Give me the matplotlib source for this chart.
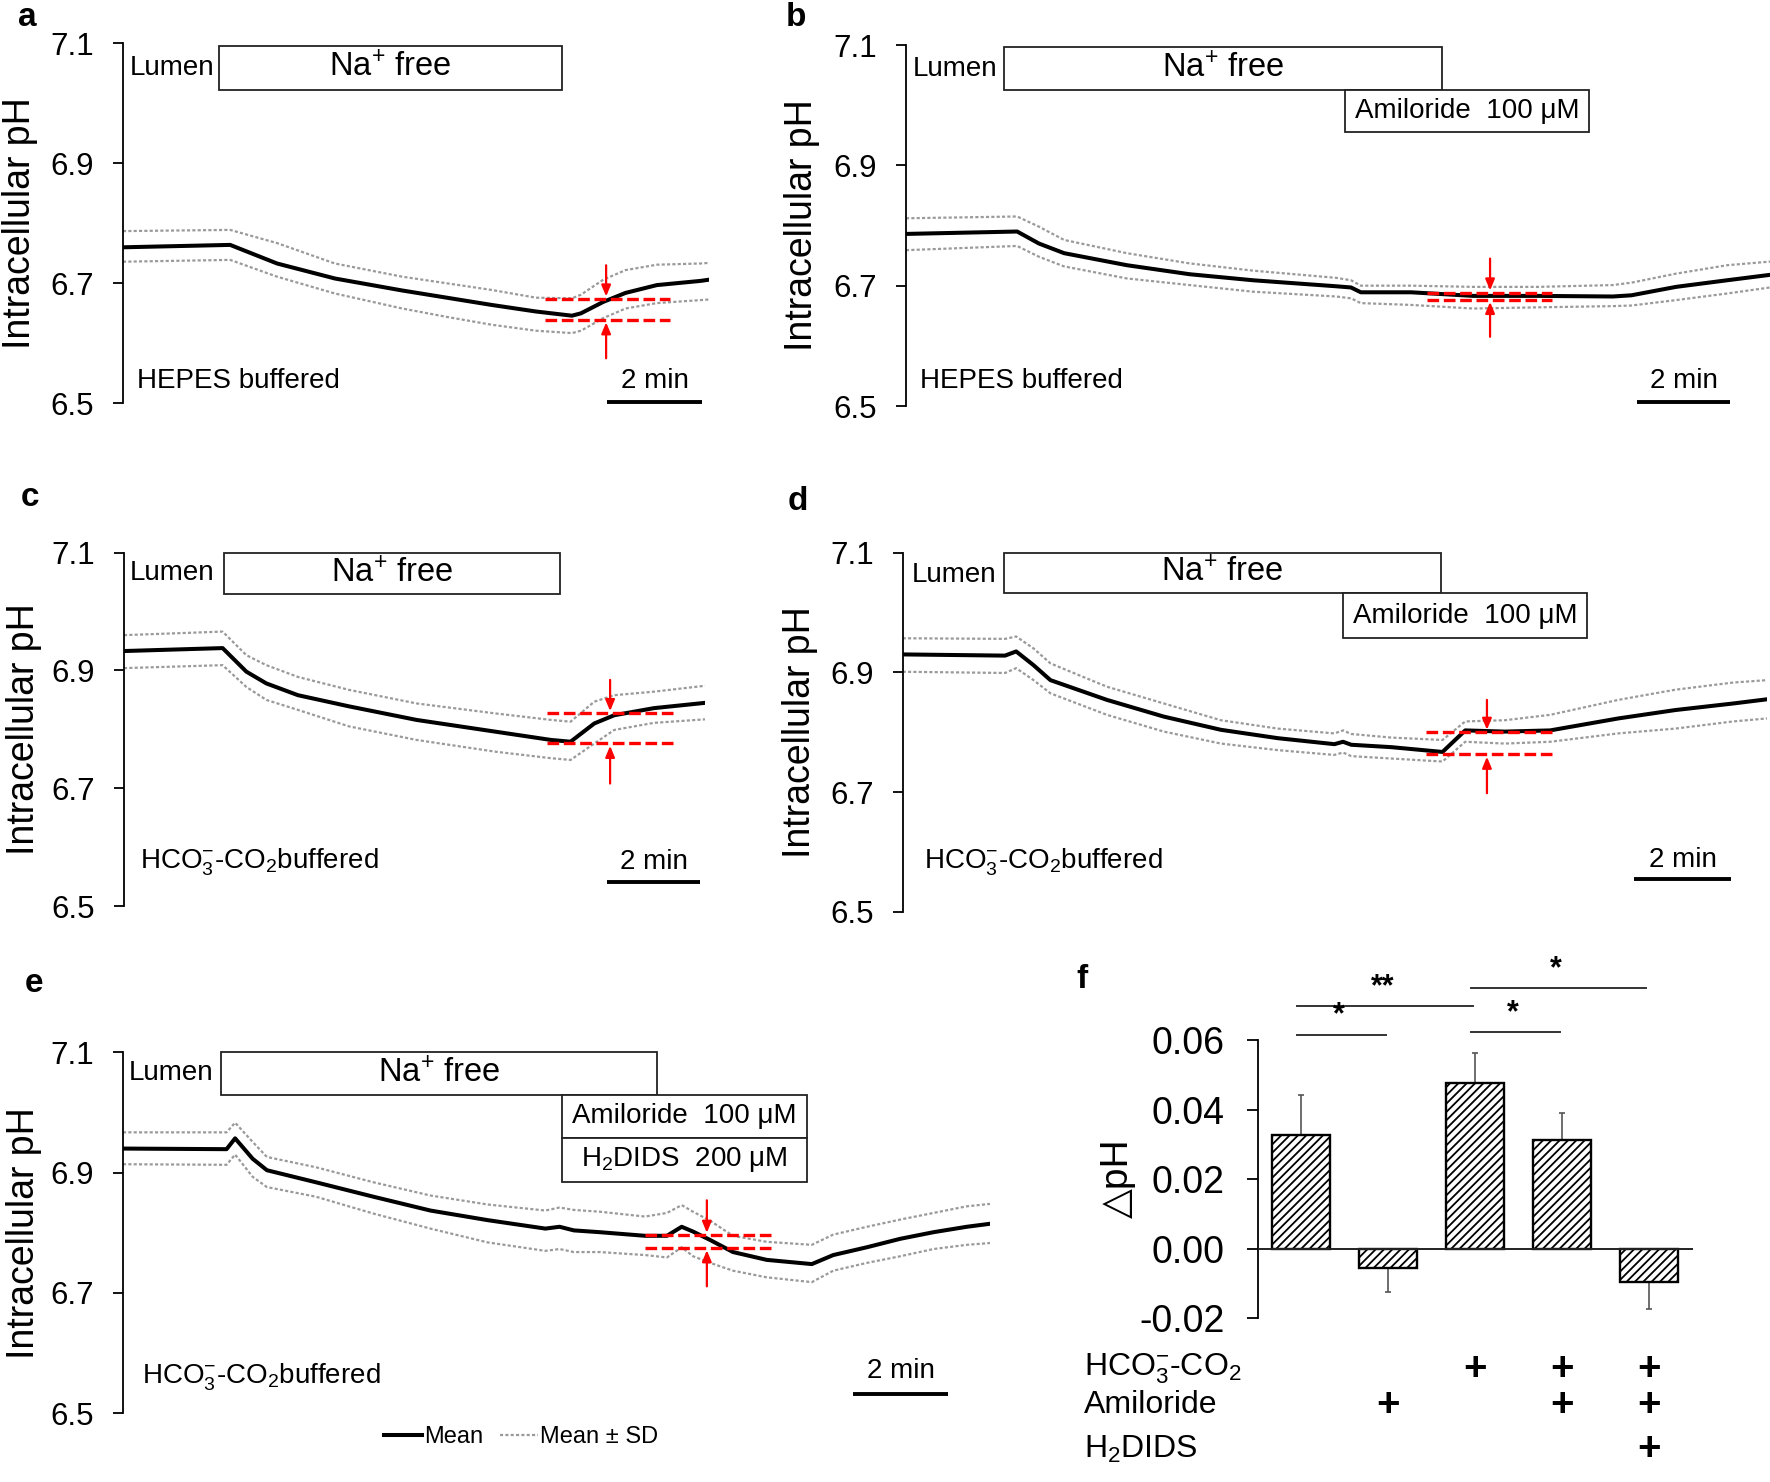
import matplotlib
matplotlib.use("Agg")
import matplotlib.pyplot as plt
from matplotlib.patches import Rectangle
from matplotlib.lines import Line2D

plt.rcParams['font.family'] = ['Liberation Sans', 'DejaVu Sans']
plt.rcParams['mathtext.fontset'] = 'custom'
plt.rcParams['mathtext.rm'] = 'Liberation Sans'
plt.rcParams['mathtext.it'] = 'Liberation Sans:italic'
plt.rcParams['mathtext.bf'] = 'Liberation Sans:bold'
plt.rcParams['hatch.linewidth'] = 1.3

# ---------------- data (time in min, pH) ----------------
a_t = [0, 2.26, 3.25, 4.47, 5.89, 6.83, 7.77, 8.71, 9.47, 9.66, 10.13, 10.6, 11.26, 12.18, 12.36]
a_mean = [6.760, 6.764, 6.733, 6.708, 6.688, 6.676, 6.664, 6.653, 6.646, 6.650, 6.669, 6.684, 6.697, 6.704, 6.706]
a_upper = [6.787, 6.789, 6.767, 6.733, 6.711, 6.700, 6.689, 6.676, 6.675, 6.681, 6.706, 6.722, 6.731, 6.733, 6.734]
a_lower = [6.736, 6.739, 6.711, 6.683, 6.658, 6.644, 6.631, 6.621, 6.617, 6.621, 6.642, 6.658, 6.667, 6.672, 6.673]
a_red = [6.674, 6.639]

b_t = [0, 2.39, 2.86, 3.4, 4.75, 6.1, 7.46, 9.25, 9.57, 9.78, 10.86, 12.2, 13.6, 15.2, 15.6, 16.56, 17.66, 18.58]
b_mean = [6.786, 6.790, 6.770, 6.754, 6.734, 6.719, 6.709, 6.699, 6.697, 6.689, 6.689, 6.683, 6.683, 6.682, 6.684, 6.698, 6.709, 6.718]
b_upper = [6.812, 6.815, 6.798, 6.776, 6.754, 6.737, 6.725, 6.713, 6.709, 6.700, 6.700, 6.698, 6.698, 6.701, 6.705, 6.720, 6.734, 6.740]
b_lower = [6.759, 6.766, 6.748, 6.732, 6.712, 6.701, 6.690, 6.682, 6.679, 6.671, 6.668, 6.662, 6.664, 6.666, 6.667, 6.676, 6.687, 6.697]
b_red = [6.688, 6.677]

c_t = [0, 2.12, 2.63, 3.06, 3.74, 4.84, 6.29, 7.99, 9.18, 9.6, 10.11, 10.54, 11.39, 12.49]
c_mean = [6.933, 6.938, 6.898, 6.878, 6.858, 6.839, 6.816, 6.796, 6.782, 6.779, 6.810, 6.824, 6.836, 6.845]
c_upper = [6.960, 6.966, 6.926, 6.909, 6.889, 6.867, 6.844, 6.827, 6.816, 6.813, 6.847, 6.858, 6.864, 6.874]
c_lower = [6.904, 6.909, 6.872, 6.850, 6.833, 6.805, 6.782, 6.762, 6.751, 6.748, 6.776, 6.799, 6.811, 6.817]
c_red = [6.827, 6.776]

d_t = [0, 2.12, 2.35, 2.71, 3.06, 4.23, 5.41, 6.59, 7.77, 8.94, 9.12, 9.29, 10.12, 11.18, 11.65, 12.47, 13.41, 14.82, 16.0, 17.2, 17.9]
d_mean = [6.930, 6.928, 6.935, 6.912, 6.887, 6.854, 6.826, 6.804, 6.790, 6.780, 6.784, 6.779, 6.775, 6.767, 6.803, 6.801, 6.803, 6.823, 6.837, 6.848, 6.855]
d_upper = [6.957, 6.956, 6.960, 6.940, 6.915, 6.876, 6.848, 6.820, 6.806, 6.798, 6.803, 6.797, 6.791, 6.787, 6.818, 6.820, 6.829, 6.854, 6.871, 6.883, 6.887]
d_lower = [6.901, 6.899, 6.907, 6.887, 6.865, 6.829, 6.801, 6.781, 6.770, 6.762, 6.766, 6.760, 6.756, 6.751, 6.784, 6.781, 6.784, 6.798, 6.806, 6.818, 6.823]
d_red = [6.800, 6.763]

e_t = [0, 2.18, 2.36, 2.73, 3.03, 4.06, 5.27, 6.47, 7.68, 8.89, 9.19, 9.49, 10.04, 10.99, 11.45, 11.76, 12.0, 12.36, 12.84, 13.55, 14.5, 14.95, 15.66, 16.36, 17.06, 17.76, 18.25]
e_mean = [6.940, 6.939, 6.957, 6.923, 6.904, 6.884, 6.860, 6.837, 6.821, 6.807, 6.810, 6.804, 6.801, 6.795, 6.795, 6.810, 6.802, 6.788, 6.768, 6.755, 6.748, 6.763, 6.776, 6.790, 6.801, 6.810, 6.815]
e_upper = [6.967, 6.967, 6.983, 6.951, 6.926, 6.909, 6.884, 6.862, 6.847, 6.837, 6.842, 6.838, 6.835, 6.827, 6.833, 6.846, 6.835, 6.820, 6.795, 6.785, 6.780, 6.797, 6.810, 6.822, 6.833, 6.844, 6.848]
e_lower = [6.914, 6.913, 6.930, 6.893, 6.876, 6.860, 6.832, 6.807, 6.784, 6.770, 6.773, 6.768, 6.768, 6.763, 6.759, 6.776, 6.761, 6.750, 6.737, 6.726, 6.718, 6.737, 6.750, 6.761, 6.773, 6.780, 6.783]
e_red = [6.796, 6.775]

yticks_pH = [6.5, 6.7, 6.9, 7.1]
ytick_labels_pH = ['6.5', '6.7', '6.9', '7.1']

# panel f
f_values = [0.0328, -0.0056, 0.0476, 0.0313, -0.0096]
f_sd = [0.0115, 0.0067, 0.0086, 0.0077, 0.0077]
f_yticks = [-0.02, 0.00, 0.02, 0.04, 0.06]
f_ytick_labels = ['-0.02', '0.00', '0.02', '0.04', '0.06']
f_sig = [(0, 1, 0.0615, '*'), (0, 2, 0.0697, '**'), (2, 3, 0.0622, '*'), (2, 4, 0.0749, '*')]
f_rows = [r'HCO$_3^{-}$-CO$_2$', 'Amiloride', r'H$_2$DIDS']
f_plus = [[2, 3, 4], [1, 3, 4], [4]]

# ---------------- figure ----------------
W, H = 1770, 1482
fig = plt.figure(figsize=(W / 100, H / 100), dpi=100)


def rect(l, t, r, b):
    return [l / W, 1 - b / H, (r - l) / W, (b - t) / H]


SDC = '#9a9a9a'


def trace_axes(r, xmax, t, mean, up, lo):
    ax = fig.add_axes(rect(*r))
    ax.set_xlim(0, xmax)
    ax.set_ylim(6.5, 7.1)
    for s in ['top', 'right', 'bottom']:
        ax.spines[s].set_visible(False)
    ax.spines['left'].set_linewidth(1.3)
    ax.set_xticks([])
    ax.set_yticks(yticks_pH)
    ax.set_yticklabels(ytick_labels_pH)
    ax.tick_params(axis='y', labelsize=22.5, length=7, width=1.3, pad=14)
    ax.patch.set_alpha(0)
    ax.plot(t, up, color=SDC, lw=1.6, dashes=(1.4, 1.0))
    ax.plot(t, lo, color=SDC, lw=1.6, dashes=(1.4, 1.0))
    ax.plot(t, mean, color='black', lw=2.9)
    return ax


def box(ax, x0, x1, y0, y1, label, fs=21):
    ax.add_patch(Rectangle((x0, y0), x1 - x0, y1 - y0, facecolor='white',
                           edgecolor='#222222', lw=1.3, clip_on=False, zorder=4))
    ax.text((x0 + x1) / 2, (y0 + y1) / 2, label, ha='center', va='center',
            fontsize=fs, zorder=5, clip_on=False)


def red_marks(ax, vals, x0, x1, xa, top, bot):
    hi, lo = vals
    for v in vals:
        ax.plot([x0, x1], [v, v], color='red', lw=2.4, dashes=(3.5, 1.4), zorder=6)
    ap = dict(arrowstyle='-|>,head_length=0.6,head_width=0.25', color='red', lw=1.6,
              shrinkA=0, shrinkB=0, mutation_scale=11)
    ax.annotate('', xy=(xa, hi + 0.004), xytext=(xa, top), arrowprops=ap, zorder=6)
    ax.annotate('', xy=(xa, lo - 0.004), xytext=(xa, bot), arrowprops=ap, zorder=6)


def scalebar(ax, x0, y, ty):
    ax.plot([x0, x0 + 2], [y, y], color='black', lw=2.8, clip_on=False, solid_capstyle='butt')
    ax.text(x0 + 1, ty, '2 min', ha='center', va='center', fontsize=20)


def ylab(x, r):
    yc = (r[1] + r[3]) / 2
    fig.text(x / W, 1 - yc / H, 'Intracellular pH', rotation=90, ha='center', va='center',
             fontsize=27)


NA = r'Na$^{+}$ free'
AMI = 'Amiloride  100 μM'
HCO = r'HCO$_3^{-}$-CO$_2$buffered'

# ---- a ----
ra = (123, 43.3, 709, 403.3)
ax = trace_axes(ra, 12.36, a_t, a_mean, a_upper, a_lower)
box(ax, 2.02, 9.26, 7.022, 7.096, NA, 23.5)
ax.text(0.15, 7.058, 'Lumen', ha='left', va='center', fontsize=20)
ax.text(0.3, 6.537, 'HEPES buffered', ha='left', va='center', fontsize=20)
scalebar(ax, 10.21, 6.502, 6.537)
red_marks(ax, a_red, 8.9, 11.54, 10.19, 6.730, 6.575)
ylab(20, ra)

# ---- b ----
rb = (906, 45, 1770, 406)
ax = trace_axes(rb, 18.58, b_t, b_mean, b_upper, b_lower)
box(ax, 2.11, 11.52, 7.026, 7.097, NA, 23.5)
box(ax, 9.44, 14.69, 6.955, 7.026, AMI, 20)
ax.text(0.14, 7.06, 'Lumen', ha='left', va='center', fontsize=20)
ax.text(0.3, 6.541, 'HEPES buffered', ha='left', va='center', fontsize=20)
scalebar(ax, 15.72, 6.506, 6.541)
red_marks(ax, b_red, 11.2, 13.9, 12.56, 6.745, 6.615)
ylab(802, rb)

# ---- c ----
rc = (124, 552.7, 705, 906)
ax = trace_axes(rc, 12.49, c_t, c_mean, c_upper, c_lower)
box(ax, 2.14, 9.37, 7.03, 7.1, NA, 23.5)
ax.text(0.12, 7.065, 'Lumen', ha='left', va='center', fontsize=20)
ax.text(0.34, 6.575, HCO, ha='left', va='center', fontsize=20)
scalebar(ax, 10.39, 6.541, 6.575)
red_marks(ax, c_red, 9.09, 11.83, 10.45, 6.884, 6.708)
ylab(24, rc)

# ---- d ----
rd = (902.7, 552.7, 1767, 911.7)
ax = trace_axes(rd, 17.9, d_t, d_mean, d_upper, d_lower)
box(ax, 2.09, 11.15, 7.032, 7.1, NA, 23.5)
box(ax, 9.12, 14.18, 6.958, 7.032, AMI, 20)
ax.text(0.18, 7.063, 'Lumen', ha='left', va='center', fontsize=20)
ax.text(0.45, 6.582, HCO, ha='left', va='center', fontsize=20)
scalebar(ax, 15.15, 6.554, 6.586)
red_marks(ax, d_red, 10.83, 13.44, 12.1, 6.854, 6.698)
ylab(800, rd)

# ---- e ----
re = (123, 1052.3, 990, 1413.3)
ax_e = trace_axes(re, 18.25, e_t, e_mean, e_upper, e_lower)
box(ax_e, 2.06, 11.25, 7.029, 7.1, NA, 23.5)
box(ax_e, 9.25, 14.39, 6.958, 7.029, AMI, 20)
box(ax_e, 9.25, 14.39, 6.885, 6.957, r'H$_2$DIDS  200 μM', 20)
ax_e.text(0.13, 7.065, 'Lumen', ha='left', va='center', fontsize=20)
ax_e.text(0.41, 6.56, HCO, ha='left', va='center', fontsize=20)
scalebar(ax_e, 15.37, 6.532, 6.571)
red_marks(ax_e, e_red, 10.99, 13.66, 12.29, 6.854, 6.711)
ylab(24, re)

h_mean = Line2D([], [], color='black', lw=2.9)
h_sd = Line2D([], [], color=SDC, lw=1.6, dashes=(1.4, 1.0))
fig.legend([h_mean, h_sd], ['Mean', 'Mean ± SD'], ncol=2, loc='center',
           bbox_to_anchor=(521 / W, 1 - 1437 / H), frameon=False, fontsize=17,
           handlelength=1.6, handletextpad=0.1, columnspacing=0.7)

# ---- f ----
rf = (1258, 1040, 1692.5, 1318.3)
axf = fig.add_axes(rect(*rf))
axf.set_xlim(-0.5, 4.5)
axf.set_ylim(-0.02, 0.06)
for s in ['top', 'right', 'bottom']:
    axf.spines[s].set_visible(False)
axf.spines['left'].set_linewidth(1.3)
axf.set_xticks([])
axf.set_yticks(f_yticks)
axf.set_yticklabels(f_ytick_labels)
axf.tick_params(axis='y', labelsize=27, length=8, width=1.3, pad=16)
axf.patch.set_alpha(0)
xs = list(range(len(f_values)))
axf.bar(xs, f_values, width=0.667, color='white', edgecolor='black', hatch='////',
        lw=1.7, zorder=2)
err_lo = [s if v < 0 else 0 for v, s in zip(f_values, f_sd)]
err_hi = [s if v >= 0 else 0 for v, s in zip(f_values, f_sd)]
axf.errorbar(xs, f_values, yerr=[err_lo, err_hi], fmt='none', ecolor='#555555',
             elinewidth=1.2, capsize=2, capthick=1.2, zorder=1)
axf.axhline(0, color='#222222', lw=1.4, zorder=3)
for i, j, y, lab in f_sig:
    axf.plot([i - 0.05, j - 0.03], [y, y], color='#333333', lw=1.4, clip_on=False)
    axf.text((i + j) / 2 - 0.07, y + 0.0012, lab, ha='center', va='bottom',
             fontsize=22, fontweight='bold', clip_on=False)
fig.text(1117.8 / W, 1 - 1178 / H, '△pH', rotation=90, ha='center', va='center',
         fontsize=28, family=['Liberation Sans', 'DejaVu Sans'])

row_y = [1369, 1405, 1449]
for lab, yy, plus in zip(f_rows, row_y, f_plus):
    fig.text(1084 / W, 1 - yy / H, lab, ha='left', va='center', fontsize=23)
    for k in plus:
        xpix = axf.transData.transform((k, 0))[0]
        fig.text(xpix / (fig.dpi * fig.get_figwidth()), 1 - yy / H, '+', ha='center',
                 va='center', fontsize=29, fontweight='bold')

# panel letters
for lab, x, y in [('a', 27, 17), ('b', 796, 18), ('c', 30, 497), ('d', 798, 502),
                  ('e', 34, 984), ('f', 1082, 980)]:
    fig.text(x / W, 1 - y / H, lab, ha='center', va='center', fontsize=24,
             fontweight='bold')

fig.savefig('out.png', dpi=100)
